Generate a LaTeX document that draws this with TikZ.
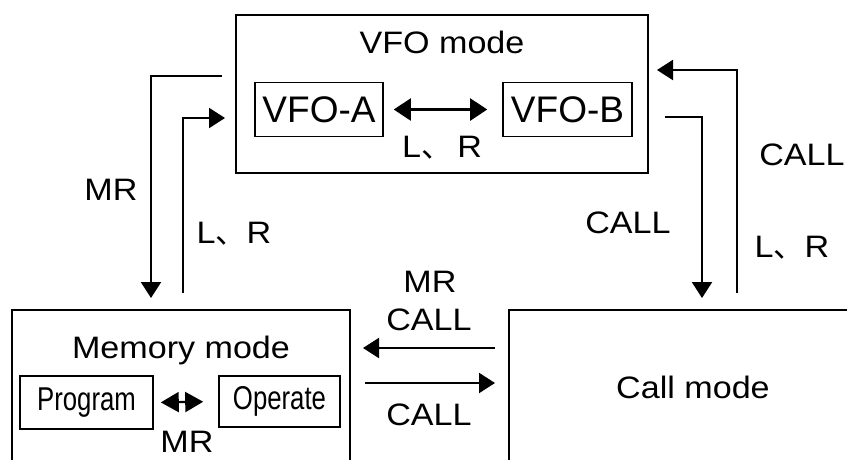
\documentclass[tikz,border=0pt]{standalone}
\usepackage{fontspec}
\setmainfont[FakeStretch=1.1]{Liberation Sans}
\newfontfamily\plainfont{Liberation Sans}
\newfontfamily\condfont[FakeStretch=0.78]{Liberation Sans}
\newfontfamily\cjkfont{Noto Sans CJK JP}
\newcommand{\LRtext}{L{\cjkfont 、}R}
\usetikzlibrary{arrows.meta}
\begin{document}
\begin{tikzpicture}[x=1pt,y=-1pt,
  box/.style={draw, line width=1.8pt, inner sep=0pt, minimum width=#1},
  lbl/.style={anchor=base, inner sep=0pt, font=\fontsize{31}{36}\selectfont},
  subbox/.style={draw, line width=1.6pt, inner sep=0pt},
  arr/.style={line width=2.2pt, -{Triangle[length=16pt,width=20pt]}},
  dbl/.style={line width=2.2pt, {Triangle[length=17pt,width=22pt]}-{Triangle[length=17pt,width=22pt]}},
  dblsmall/.style={line width=2.2pt, {Triangle[length=18pt,width=20pt]}-{Triangle[length=18pt,width=20pt]}}
]
\useasboundingbox (0,0) rectangle (847,459);
\clip (0,0) rectangle (847,459);
\fill[white] (0,0) rectangle (847,459);

% main boxes
\node[box=412pt, minimum height=158pt] (vfo) at (442,94) {};
\node[box=338pt, minimum height=180pt] (mem) at (181,400) {};
\node[box=362pt, minimum height=180pt] (call) at (690,400) {};

% inner boxes
\node[subbox, minimum width=128pt, minimum height=54pt, font=\plainfont\fontsize{37}{40}\selectfont] (vfoa) at (319,109.5) {VFO-A};
\node[subbox, minimum width=129pt, minimum height=54pt, font=\plainfont\fontsize{37}{40}\selectfont] (vfob) at (567.5,109.5) {VFO-B};
\node[subbox, minimum width=133pt, minimum height=53pt, font=\condfont\fontsize{33}{36}\selectfont] (prog) at (86.5,402.5) {Program};
\node[subbox, minimum width=121pt, minimum height=51pt, font=\condfont\fontsize{33}{36}\selectfont] (oper) at (279.5,401.5) {Operate};

% titles
\node[lbl] (vfotitle) at (442,53) {VFO mode};
\node[lbl] (memtitle) at (181,358) {Memory mode};
\node[lbl] (calltitle) at (693,398) {Call mode};

% inner arrows
\draw[dbl, shorten <=10pt, shorten >=15pt] (vfoa.east) -- (vfob.west);
\draw[dblsmall, shorten <=7pt, shorten >=15pt] (prog.east) -- (oper.west);
\node[lbl] (lrvfo) at (442,157) {L{\cjkfont 、}\,R};
\node[lbl] (mrmem) at (187,452) {MR};

% connector end points
\coordinate (mrA) at (222,76);
\coordinate (mrB) at (151,298);
\coordinate (lrA) at (183,293);
\coordinate (lrB) at (225,118);
\coordinate (cA) at (665,117);
\coordinate (cB) at (702,298);
\coordinate (rA) at (737,293);
\coordinate (rB) at (657,70);
\coordinate (cmA) at (495,348);
\coordinate (cmB) at (363,348);
\coordinate (mcA) at (365,383);
\coordinate (mcB) at (495,383);

\draw[arr] (mrA) -| (mrB);
\draw[arr] (lrA) |- (lrB);
\draw[arr] (cA) -| (cB);
\draw[arr] (rA) |- (rB);
\draw[arr] (cmA) -- (cmB);
\draw[arr] (mcA) -- (mcB);

% labels
\node[lbl] (lMR) at (111,200) {MR};
\node[lbl] (lLR) at (234,243) {\LRtext};
\node[lbl] (lCALLmid) at (628,233) {CALL};
\node[lbl] (lCALLr) at (802,165) {CALL};
\node[lbl] (lLRr) at (792,257) {\LRtext};
\node[lbl] (lMRm) at (430,292) {MR};
\node[lbl] (lCALLa) at (429,330) {CALL};
\node[lbl] (lCALLb) at (429,425) {CALL};
\end{tikzpicture}
\end{document}
